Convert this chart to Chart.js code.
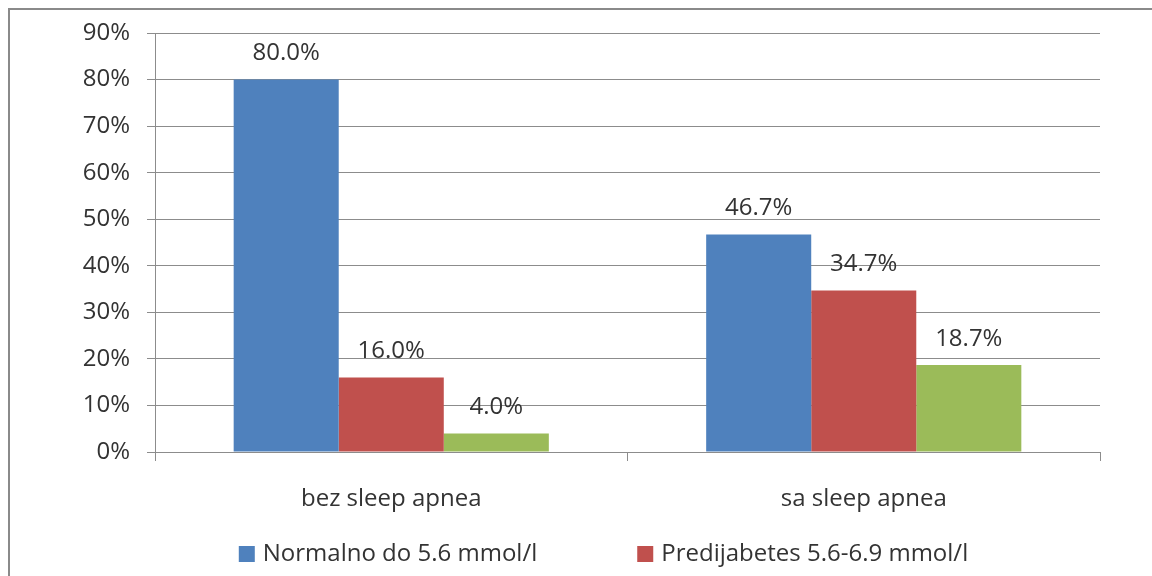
<!DOCTYPE html>
<html>
<head>
<meta charset="utf-8">
<script src="https://cdn.jsdelivr.net/npm/chart.js@4"></script>
<style>
  html, body { margin: 0; padding: 0; background: #fff; overflow: hidden; }
  #wrap { position: relative; width: 1152px; height: 576px; }
</style>
</head>
<body>
<div id="wrap"><canvas id="c" width="1152" height="576"></canvas></div>
<script>
const categories = ["bez sleep apnea", "sa sleep apnea"];
const seriesNames = ["Normalno do 5.6 mmol/l", "Predijabetes 5.6-6.9 mmol/l", ""];
const normalno = [80.0, 46.7];
const predijabetes = [16.0, 34.7];
const treca = [4.0, 18.7];
const yTicks = [0, 10, 20, 30, 40, 50, 60, 70, 80, 90];
const colors = ["#4F81BD", "#C0504D", "#9BBB59"];

const TEXT = "#333333";
const GRID = "#8c8c8c";
const FONT = "'Open Sans', 'DejaVu Sans', sans-serif";

const framePlugin = {
  id: 'frame',
  beforeDraw(chart) {
    const ctx = chart.ctx;
    ctx.save();
    ctx.strokeStyle = "#8a8a8a";
    ctx.lineWidth = 2;
    ctx.strokeRect(9, 9, 1400, 800);
    ctx.restore();
  }
};

const valueLabels = {
  id: 'valueLabels',
  afterDatasetsDraw(chart) {
    const ctx = chart.ctx;
    ctx.save();
    ctx.font = "24px " + FONT;
    ctx.fillStyle = TEXT;
    ctx.textAlign = 'center';
    ctx.textBaseline = 'middle';
    chart.data.datasets.forEach((ds, i) => {
      const meta = chart.getDatasetMeta(i);
      meta.data.forEach((el, j) => {
        ctx.fillText(ds.data[j].toFixed(1) + '%', el.x, el.y - 26);
      });
    });
    ctx.restore();
  }
};

const customLegend = {
  id: 'customLegend',
  afterDraw(chart) {
    const ctx = chart.ctx;
    ctx.save();
    ctx.font = "24px " + FONT;
    ctx.textBaseline = 'middle';
    ctx.textAlign = 'left';
    const items = chart.data.datasets.filter(d => d.label);
    const box = 16, boxGap = 8, itemGap = 100;
    const widths = items.map(d => box + boxGap + ctx.measureText(d.label).width);
    const total = widths.reduce((a, b) => a + b, 0) + itemGap * (items.length - 1);
    let x = 603.5 - total / 2;
    const y = 554;
    items.forEach((d, i) => {
      ctx.fillStyle = d.backgroundColor;
      ctx.fillRect(x, y - box / 2, box, box);
      ctx.fillStyle = TEXT;
      ctx.fillText(d.label, x + box + boxGap, y);
      x += widths[i] + itemGap;
    });
    ctx.restore();
  }
};

const datasets = [normalno, predijabetes, treca].map((vals, i) => ({
  label: seriesNames[i],
  data: vals,
  backgroundColor: colors[i],
  borderWidth: 0,
  categoryPercentage: 0.667,
  barPercentage: 1.0
}));

new Chart(document.getElementById('c'), {
  type: 'bar',
  data: { labels: categories, datasets },
  options: {
    responsive: false,
    animation: false,
    devicePixelRatio: 1,
    layout: { padding: { left: 0, right: 52, top: 33, bottom: 0 } },
    plugins: {
      legend: { display: false },
      tooltip: { enabled: false }
    },
    scales: {
      x: {
        afterFit(s) { s.height = 124; },
        grid: { offset: true, drawOnChartArea: false, drawTicks: true, tickLength: 9, color: GRID, lineWidth: 1 },
        border: { display: true, color: GRID, width: 1 },
        ticks: { color: TEXT, font: { family: FONT, size: 24 }, padding: 24 }
      },
      y: {
        min: 0, max: 90,
        afterFit(s) { s.width = 155; },
        afterBuildTicks(s) { s.ticks = yTicks.map(v => ({ value: v })); },
        grid: { color: GRID, lineWidth: 1, tickLength: 8, drawTicks: true },
        border: { display: true, color: GRID, width: 1 },
        ticks: { color: TEXT, font: { family: FONT, size: 24 }, padding: 17, callback: v => v + '%' }
      }
    }
  },
  plugins: [framePlugin, valueLabels, customLegend]
});
</script>
</body>
</html>
